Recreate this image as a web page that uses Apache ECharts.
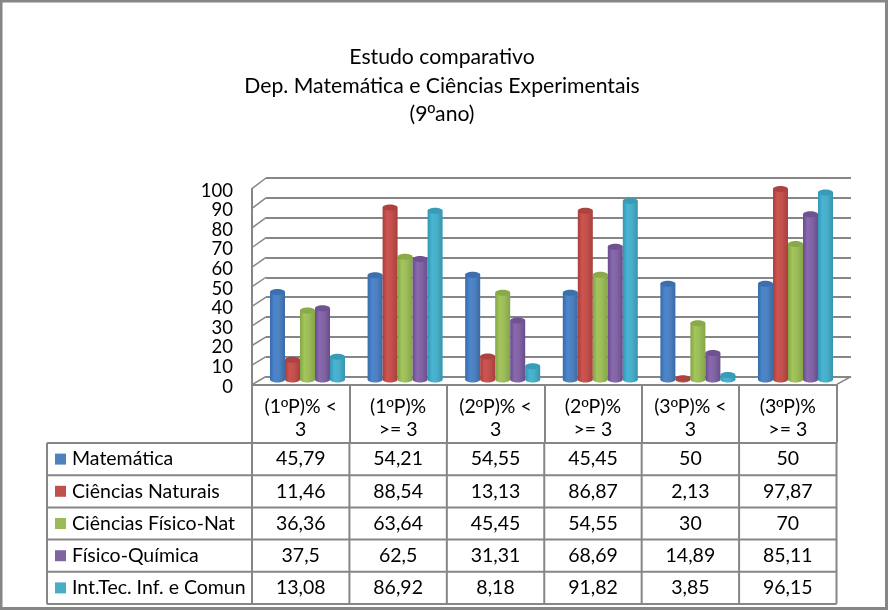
<!DOCTYPE html>
<html><head><meta charset="utf-8">
<style>html,body{margin:0;padding:0;background:#fff}#c{width:888px;height:610px}</style>
<script src="https://cdn.jsdelivr.net/npm/echarts@6/dist/echarts.min.js"></script>
</head><body><div id="c"></div>
<script>
const titleLines = ["Estudo comparativo","Dep. Matemática e Ciências Experimentais","(9ºano)"];
const categories = ["(1ºP)% <\n3","(1ºP)%\n>= 3","(2ºP)% <\n3","(2ºP)%\n>= 3","(3ºP)% <\n3","(3ºP)%\n>= 3"];
const matematica = [45.79,54.21,54.55,45.45,50,50];
const cienciasNaturais = [11.46,88.54,13.13,86.87,2.13,97.87];
const cienciasFisicoNat = [36.36,63.64,45.45,54.55,30,70];
const fisicoQuimica = [37.5,62.5,31.31,68.69,14.89,85.11];
const intTec = [13.08,86.92,8.18,91.82,3.85,96.15];
const seriesNames = ["Matemática","Ciências Naturais","Ciências Físico-Nat","Físico-Química","Int.Tec. Inf. e Comun"];
const seriesValues = [matematica,cienciasNaturais,cienciasFisicoNat,fisicoQuimica,intTec];
const shades = [
 {base:"#4f81bd",dark:"#376ba8",light:"#4a86cf",cap:"#3c6fae"},
 {base:"#c0504d",dark:"#a83f3c",light:"#cf5450",cap:"#ad4340"},
 {base:"#9bbb59",dark:"#84a546",light:"#a3c65c",cap:"#8aaa49"},
 {base:"#8064a2",dark:"#694c8c",light:"#8a69b0",cap:"#6e5292"},
 {base:"#4bacc6",dark:"#3396b2",light:"#46b6d4",cap:"#389cb8"}
];
const gray = "#868686";
const fontFamily = "Lato, Carlito, 'Open Sans', sans-serif";
const ordFont = "'Liberation Sans'";

function fmt(v){ return String(v).replace(".", ","); }
function markOrd(s){ return s.replace(/º/g,"{o|º}"); }

const chart = echarts.init(document.getElementById("c"), null, {renderer:"canvas"});

function cylinderSeries(i){
  const s = shades[i];
  return {
    type:"custom", name:seriesNames[i], xAxisIndex:2, yAxisIndex:2,
    data: seriesValues[i].map((v,k)=>[k,v]),
    encode:{x:0,y:1}, clip:false, z:5,
    renderItem(params, api){
      const top = api.coord([api.value(0), api.value(1)]);
      const zero = api.coord([api.value(0), 0]);
      const band = api.size([1,0])[0];
      const w = band*0.1537;
      const cx = top[0] + (i-2)*w;
      const ry = 3;
      const baseY = zero[1]-ry;
      const topY = Math.min(top[1], baseY);
      const grad = new echarts.graphic.LinearGradient(0,0,1,0,[
        {offset:0,color:s.dark},{offset:0.3,color:s.light},{offset:0.62,color:s.base},{offset:1,color:s.dark}]);
      return {type:"group",children:[
        {type:"ellipse",shape:{cx:cx,cy:baseY,rx:w/2,ry:ry},style:{fill:grad}},
        {type:"rect",shape:{x:cx-w/2,y:topY,width:w,height:baseY-topY},style:{fill:grad}},
        {type:"ellipse",shape:{cx:cx,cy:topY,rx:w/2,ry:ry},style:{fill:s.cap}}
      ]};
    }
  };
}

const frontGrid = {left:252,top:188.7,width:584.5,height:196};
const backGrid = {left:266,top:178,width:585,height:198.5};
const barGrid = {left:258.7,top:184.8,width:585.6,height:197.7};
const labelGrid = {left:252,top:190.7,width:584.5,height:196};

const option = {
  animation:false,
  backgroundColor:"#fff",
  textStyle:{fontFamily},
  title:{text:markOrd(titleLines.join("\n")),left:437,top:38,textAlign:"center",
    textStyle:{fontFamily,fontSize:21.2,fontWeight:"normal",color:"#000",lineHeight:28.5,rich:{o:{fontFamily:ordFont,fontSize:21,lineHeight:28.5,color:"#000"}}}},
  grid:[frontGrid,backGrid,barGrid,labelGrid],
  xAxis:[
    {gridIndex:0,type:"category",data:categories,
      axisLine:{lineStyle:{color:gray,width:2}},
      axisTick:{show:true,length:58,lineStyle:{color:gray,width:2}},
      axisLabel:{color:"#000",fontSize:19.5,lineHeight:23,margin:11,fontFamily,interval:0,
        formatter:markOrd,rich:{o:{fontFamily:ordFont,fontSize:19.5,lineHeight:23,color:"#000"}}}},
    {gridIndex:1,type:"category",data:categories,show:false},
    {gridIndex:2,type:"category",data:categories,show:false},
    {gridIndex:3,type:"category",data:categories,show:false}
  ],
  yAxis:[
    {gridIndex:0,type:"value",min:0,max:100,interval:10,
      axisLine:{show:true,lineStyle:{color:gray,width:2}},axisTick:{show:false},splitLine:{show:false},axisLabel:{show:false}},
    {gridIndex:1,type:"value",min:0,max:100,interval:10,axisLine:{show:false},axisTick:{show:false},axisLabel:{show:false},
      splitLine:{show:true,showMinLine:true,showMaxLine:true,lineStyle:{color:gray,width:2}}},
    {gridIndex:2,type:"value",min:0,max:100,interval:10,show:false,splitLine:{show:false}},
    {gridIndex:3,type:"value",min:0,max:100,interval:10,axisLine:{show:false},axisTick:{show:false},splitLine:{show:false},
      axisLabel:{color:"#000",fontSize:18.5,lineHeight:14,margin:19,fontFamily,showMinLabel:true,showMaxLabel:true,hideOverlap:false}}
  ],
  series:seriesNames.map((_,i)=>cylinderSeries(i))
};
chart.setOption(option);

/* 3-D wall joins and data table, all derived from the axes and the arrays */
const els = [];
const lineStyle = {stroke:gray,lineWidth:2};
for(let t=0;t<=100;t+=10){
  const a = chart.convertToPixel({xAxisIndex:0,yAxisIndex:0},[0,t]);
  const b = chart.convertToPixel({xAxisIndex:1,yAxisIndex:1},[0,t]);
  els.push({type:"line",silent:true,z:1,shape:{x1:frontGrid.left,y1:a[1],x2:backGrid.left,y2:b[1]},style:{...lineStyle,lineWidth:1.5}});
}
const fy = frontGrid.top+frontGrid.height, by = backGrid.top+backGrid.height;
els.push({type:"line",silent:true,z:1,shape:{x1:frontGrid.left+frontGrid.width,y1:fy,x2:backGrid.left+backGrid.width,y2:by},style:{...lineStyle,lineWidth:1.5}});

const tableLeft = 47, rowTop = 443, rowH = 32.2, colW = frontGrid.width/categories.length;
const tableRight = frontGrid.left+frontGrid.width;
for(let r=0;r<=seriesNames.length;r++){
  const y = rowTop+r*rowH;
  els.push({type:"line",silent:true,shape:{x1:tableLeft,y1:y,x2:tableRight,y2:y},style:lineStyle});
}
const tableBottom = rowTop+seriesNames.length*rowH;
els.push({type:"line",silent:true,shape:{x1:tableLeft,y1:rowTop,x2:tableLeft,y2:tableBottom},style:lineStyle});
for(let c=0;c<=categories.length;c++){
  const x = frontGrid.left+c*colW;
  els.push({type:"line",silent:true,shape:{x1:x,y1:rowTop,x2:x,y2:tableBottom},style:lineStyle});
}
seriesNames.forEach((name,r)=>{
  const cy = rowTop+(r+0.5)*rowH;
  els.push({type:"rect",silent:true,shape:{x:55,y:cy-5.5,width:11,height:11},style:{fill:shades[r].base}});
  els.push({type:"text",silent:true,style:{x:72,y:cy,text:name,fontFamily,fontSize:19.5,fill:"#000",verticalAlign:"middle",align:"left"}});
  seriesValues[r].forEach((v,c)=>{
    els.push({type:"text",silent:true,style:{x:frontGrid.left+(c+0.5)*colW,y:cy,text:fmt(v),fontFamily,fontSize:19.5,fill:"#000",verticalAlign:"middle",align:"center"}});
  });
});
els.push({type:"rect",silent:true,z:20,shape:{x:1,y:1,width:885.5,height:607.5},style:{fill:"none",stroke:gray,lineWidth:3}});
chart.setOption({graphic:{elements:els}});
</script>
</body></html>
